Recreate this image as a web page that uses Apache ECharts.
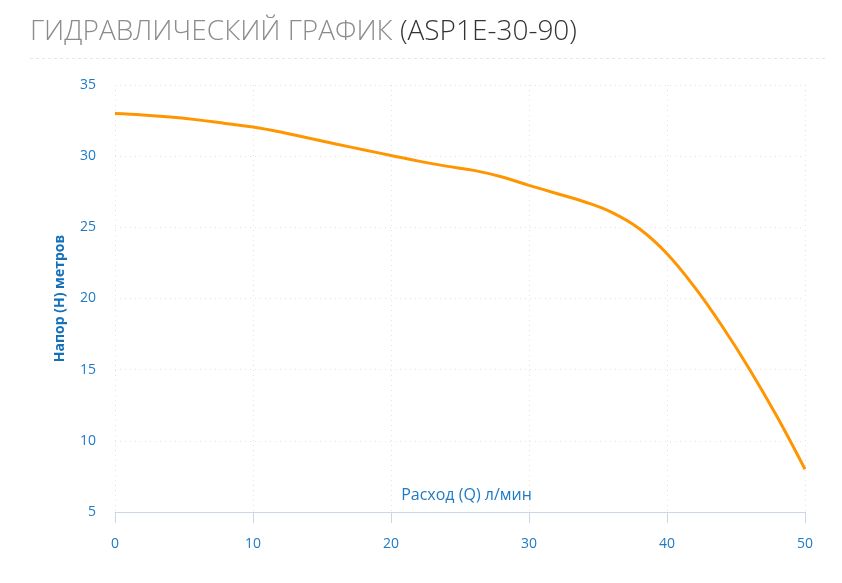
<!DOCTYPE html>
<html>
<head>
<meta charset="utf-8">
<script src="https://cdn.jsdelivr.net/npm/echarts@6/dist/echarts.min.js"></script>
<style>
html,body{margin:0;padding:0;background:#fff;}
#chart{width:842px;height:583px;}
</style>
</head>
<body>
<div id="chart"></div>
<script>
const flowQ = [0, 2, 4, 6, 8, 10, 12, 14, 16, 18, 20, 22, 24, 26, 28, 30, 32, 34, 36, 38, 40, 42, 44, 46, 48, 50];
const headH = [33, 32.9, 32.75, 32.55, 32.3, 32.05, 31.7, 31.28, 30.86, 30.45, 30.05, 29.65, 29.3, 29.0, 28.55, 27.95, 27.38, 26.8, 26.05, 24.9, 23.15, 20.8, 18.05, 15.0, 11.65, 8];
const titleMain = 'ГИДРАВЛИЧЕСКИЙ ГРАФИК';
const titleModel = '(ASP1E-30-90)';
const xName = 'Расход (Q) л/мин';
const yName = 'Напор (H) метров';

const chart = echarts.init(document.getElementById('chart'), null, {renderer: 'canvas'});
const labelColor = '#1f7ac4';
chart.setOption({
  animation: false,
  title: {
    left: 25, top: 13,
    text: '{a|' + titleMain + ' }{b|' + titleModel + '}',
    textStyle: {
      rich: {
        a: {fontFamily: 'Open Sans', fontWeight: 300, fontSize: 28, color: '#8c8c8c'},
        b: {fontFamily: 'Open Sans', fontWeight: 300, fontSize: 28, color: '#333333'}
      }
    }
  },
  graphic: [{
    type: 'line',
    shape: {x1: 30, y1: 58.5, x2: 825, y2: 58.5},
    style: {stroke: '#e6e6e6', lineWidth: 1, lineDash: [3, 3]}
  }],
  grid: {left: 115, right: 37, top: 85, bottom: 71},
  xAxis: {
    type: 'value', min: 0, max: 50, interval: 10,
    name: xName, nameLocation: 'middle', nameGap: -25, nameMoveOverlap: false,
    nameTextStyle: {color: labelColor, fontFamily: 'Open Sans', fontSize: 16, padding: [0, 0, 0, 13]},
    axisLine: {show: true, lineStyle: {color: '#ccd6eb', width: 1}},
    axisTick: {show: true, length: 11, lineStyle: {color: '#ccd6eb'}},
    axisLabel: {color: labelColor, fontFamily: 'Open Sans', fontSize: 14, margin: 25},
    splitLine: {show: true, lineStyle: {color: '#e2e2e2', type: [1, 4]}}
  },
  yAxis: {
    type: 'value', min: 5, max: 35, interval: 5,
    name: yName, nameLocation: 'middle', nameGap: 48, nameRotate: 90,
    nameTextStyle: {color: '#1570ba', fontFamily: 'Open Sans', fontWeight: 'bold', fontSize: 14},
    axisLine: {show: false},
    axisTick: {show: false},
    axisLabel: {color: labelColor, fontFamily: 'Open Sans', fontSize: 14, margin: 19},
    splitLine: {show: true, lineStyle: {color: '#e2e2e2', type: [1, 4]}}
  },
  series: [{
    type: 'line',
    data: flowQ.map((q, i) => [q, headH[i]]),
    smooth: 0.4,
    showSymbol: false,
    lineStyle: {color: '#ff9500', width: 3}
  }]
});
</script>
</body>
</html>
